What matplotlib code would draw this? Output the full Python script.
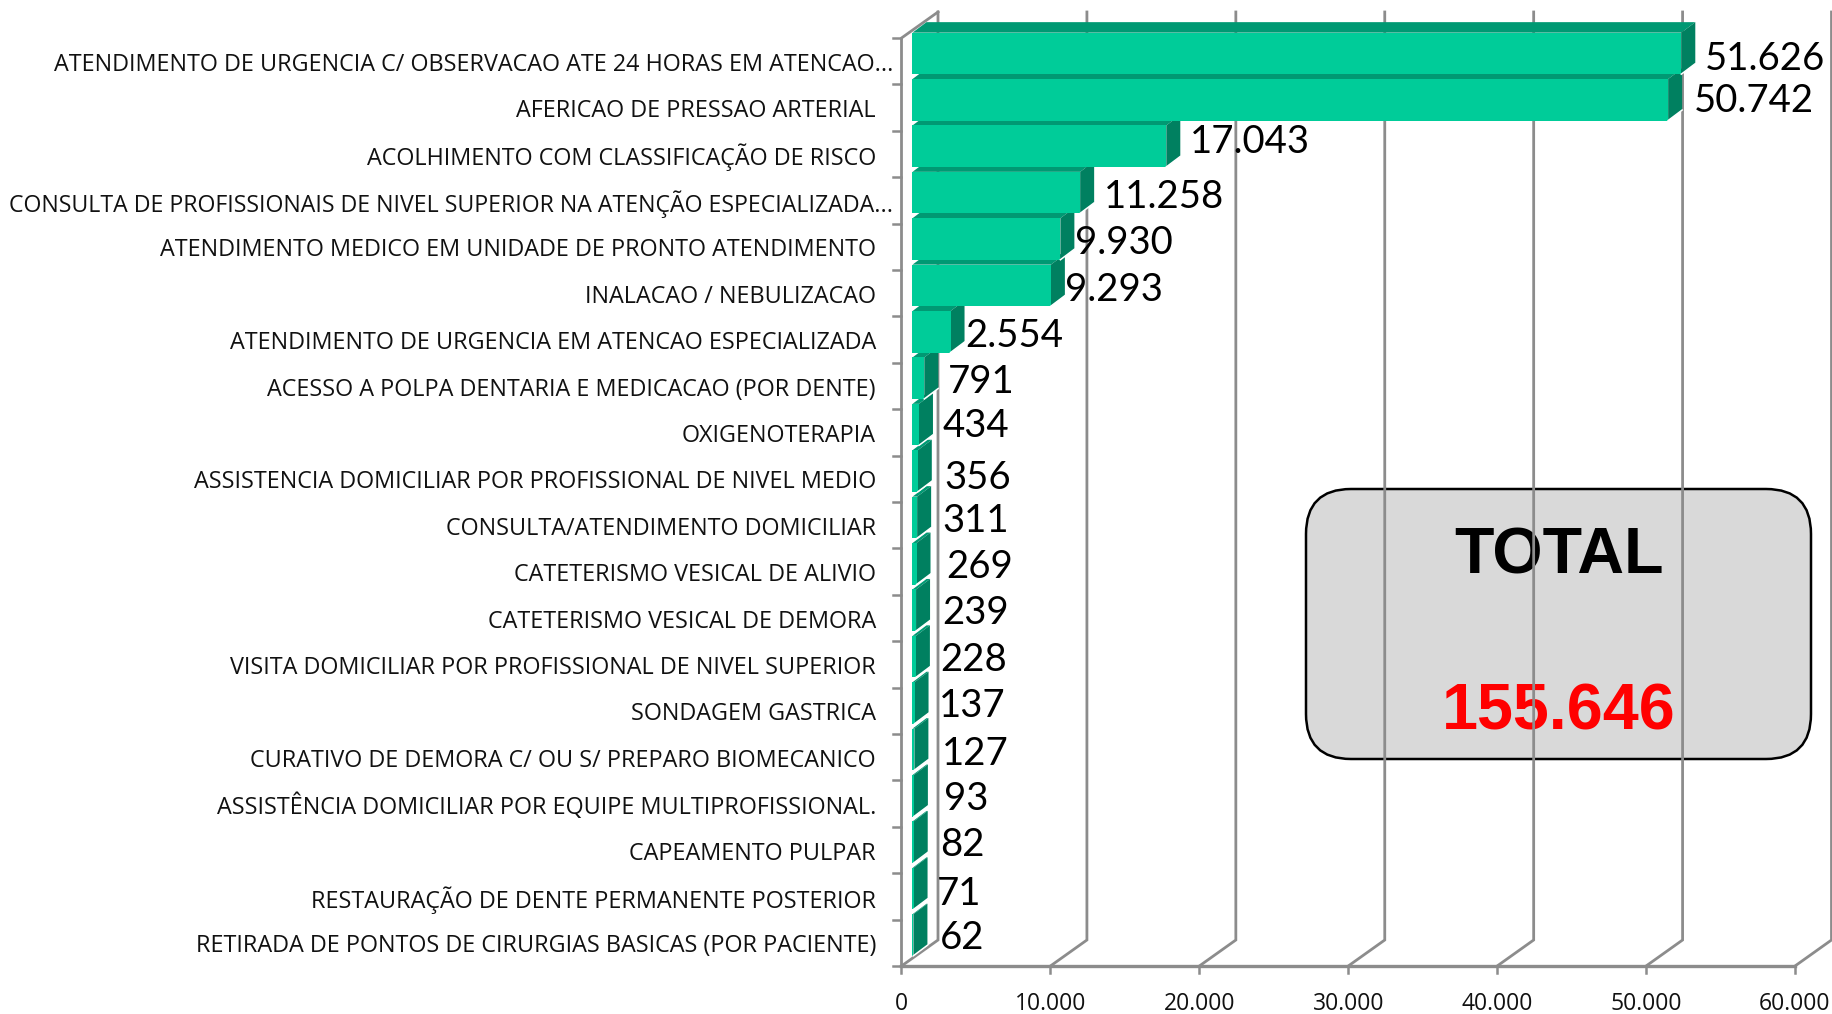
import matplotlib
matplotlib.use('Agg')
import matplotlib.pyplot as plt
from matplotlib.patches import Polygon, FancyBboxPatch

categories = [
    'ATENDIMENTO DE URGENCIA C/ OBSERVACAO ATE 24 HORAS EM ATENCAO...',
    'AFERICAO DE PRESSAO ARTERIAL',
    'ACOLHIMENTO COM CLASSIFICAÇÃO DE RISCO',
    'CONSULTA DE PROFISSIONAIS DE NIVEL SUPERIOR NA ATENÇÃO ESPECIALIZADA...',
    'ATENDIMENTO MEDICO EM UNIDADE DE PRONTO ATENDIMENTO',
    'INALACAO / NEBULIZACAO',
    'ATENDIMENTO DE URGENCIA EM ATENCAO ESPECIALIZADA',
    'ACESSO A POLPA DENTARIA E MEDICACAO (POR DENTE)',
    'OXIGENOTERAPIA',
    'ASSISTENCIA DOMICILIAR POR PROFISSIONAL DE NIVEL MEDIO',
    'CONSULTA/ATENDIMENTO DOMICILIAR',
    'CATETERISMO VESICAL DE ALIVIO',
    'CATETERISMO VESICAL DE DEMORA',
    'VISITA DOMICILIAR POR PROFISSIONAL DE NIVEL SUPERIOR',
    'SONDAGEM GASTRICA',
    'CURATIVO DE DEMORA C/ OU S/ PREPARO BIOMECANICO',
    'ASSISTÊNCIA DOMICILIAR POR EQUIPE MULTIPROFISSIONAL.',
    'CAPEAMENTO PULPAR',
    'RESTAURAÇÃO DE DENTE PERMANENTE POSTERIOR',
    'RETIRADA DE PONTOS DE CIRURGIAS BASICAS (POR PACIENTE)',
]
values = [51626, 50742, 17043, 11258, 9930, 9293, 2554, 791, 434, 356,
          311, 269, 239, 228, 137, 127, 93, 82, 71, 62]
value_labels = ['51.626', '50.742', '17.043', '11.258', '9.930', '9.293', '2.554', '791', '434', '356',
                '311', '269', '239', '228', '137', '127', '93', '82', '71', '62']
xticks = [0, 10000, 20000, 30000, 40000, 50000, 60000]
xtick_labels = ['0', '10.000', '20.000', '30.000', '40.000', '50.000', '60.000']
total_title = 'TOTAL'
total_value = '155.646'

# where each value label was dragged to, pixels (left edge, centre y)
label_x = [1705, 1694, 1190, 1104, 1075, 1065, 965, 948, 943, 944, 942, 946, 942, 940, 939, 942, 944, 940, 937, 940]
label_y = [59, 101, 142, 197, 243, 290, 336, 382, 426, 478, 521, 567, 613, 660, 706, 754, 799, 845, 894, 938]

W, H = 1833, 1014
PX0, PX1 = 901.5, 1795
PY0, PY1 = 38, 966
GRID = '#8c8c8c'
FRONT = '#00cc99'
TOP = '#009973'
SIDE = '#008060'

fig = plt.figure(figsize=(W/100, H/100), dpi=100)
ax = fig.add_axes([PX0/W, 1 - PY1/H, (PX1 - PX0)/W, (PY1 - PY0)/H])
ax.set_xlim(0, 60000)
ax.set_ylim(len(values), 0)
ax.axis('off')

# px -> data helpers
ux = 60000/(PX1 - PX0)
uy = len(values)/(PY1 - PY0)
wall_dx, wall_dy = 36.5*ux, 26*uy
bar_dx, bar_dy = 14*ux, 10.5*uy
bar_x0 = 11*ux
bar_shift = -7.8*uy
bar_h = 41.5*uy
n = len(values)

# walls
for t, lab in zip(xticks, xtick_labels):
    ax.plot([t, t + wall_dx, t + wall_dx], [n, n - wall_dy, -wall_dy], color=GRID, lw=2, clip_on=False, zorder=1,
            solid_joinstyle='miter')
    ax.plot([t, t], [n, n + 7*uy], color=GRID, lw=1.8, clip_on=False, zorder=1)
    ax.text(t, n + 38*uy, lab, ha='center', va='center', fontsize=16.5,
            family='Open Sans', color='#111111')
ax.plot([0, 60000], [n, n], color=GRID, lw=2.4, clip_on=False, zorder=1)
ax.plot([0, 0, wall_dx], [n, 0, -wall_dy], color=GRID, lw=2, clip_on=False, zorder=1, solid_joinstyle='miter')
for i in range(n + 1):
    ax.plot([-8*ux, 0], [i, i], color=GRID, lw=1.8, clip_on=False, zorder=1)

# total box sits under the axes, the grid lines show through it
box = FancyBboxPatch((1306, H - 759), 505, 270, boxstyle='round,pad=0,rounding_size=45',
                     transform=None, fc='#d9d9d9', ec='black', lw=1.8, zorder=0.5)
fig.add_artist(box)
ax.patch.set_visible(False)
ax.set_zorder(1)
fig.text(1559/W, 1 - 557/H, total_title, ha='center', va='center', fontsize=46.5, fontweight='bold',
         family='Liberation Sans', color='black', zorder=0.6)
fig.text(1559/W, 1 - 712/H, total_value, ha='center', va='center', fontsize=46.5, fontweight='bold',
         family='Liberation Sans', color='#ff0000', zorder=0.6)

# bars, last category first so the upper one sits in front
for i in range(n - 1, -1, -1):
    v = values[i]
    c = i + 0.5 + bar_shift
    y0, y1 = c - bar_h/2, c + bar_h/2
    x0, x1 = bar_x0, bar_x0 + v
    z = 3 + (n - i)*0.01
    ax.add_patch(Polygon([(x0, y0), (x1, y0), (x1 + bar_dx, y0 - bar_dy), (x0 + bar_dx, y0 - bar_dy)],
                         fc=TOP, ec='none', clip_on=False, zorder=z))
    ax.add_patch(Polygon([(x1, y0), (x1 + bar_dx, y0 - bar_dy), (x1 + bar_dx, y1 - bar_dy), (x1, y1)],
                         fc=SIDE, ec='none', clip_on=False, zorder=z))
    ax.add_patch(Polygon([(x0, y0), (x1, y0), (x1, y1), (x0, y1)],
                         fc=FRONT, ec='none', clip_on=False, zorder=z))
    # thin white seam under the side face
    ax.plot([x1, x1 + bar_dx], [y1, y1 - bar_dy], color='white', lw=1.1, clip_on=False, zorder=z)

# labels
for i, name in enumerate(categories):
    right = 893 if name.endswith('...') else 876
    size = 16.65 if name.startswith('CONSULTA DE') else 16.8
    ax.text((right - PX0)*ux, i + 0.5 + 3.5*uy, name, ha='right', va='center', fontsize=size, family='Open Sans',
            color='#111111', clip_on=False)
    ax.text((label_x[i] - PX0)*ux, (label_y[i] - PY0)*uy, value_labels[i], ha='left', va='center', fontsize=27.6,
            family='Lato', color='black', clip_on=False, zorder=6)

fig.savefig('out.png', dpi=100, facecolor='white')
